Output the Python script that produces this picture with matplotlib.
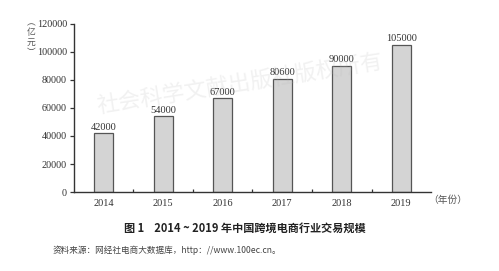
import numpy as np
import matplotlib.pyplot as plt

years = ['2014', '2015', '2016', '2017', '2018', '2019']
scale = [42000, 54000, 67000, 80600, 90000, 105000]   # 亿元
y_ticks = [0, 20000, 40000, 60000, 80000, 100000, 120000]
unit_chars = ['︵', '亿', '元', '︶']

serif = ['Liberation Serif', 'DejaVu Serif']
cjk = ['Noto Sans CJK SC', 'DejaVu Sans']
txt = '#333333'

fig = plt.figure(figsize=(4.99, 2.71), dpi=100)
ax = fig.add_axes([0.148, 0.2915, 0.716, 0.62])

x = np.arange(len(years))
bars = ax.bar(x, scale, width=0.32, color='#d4d4d4', edgecolor='#555555', linewidth=0.9, zorder=2)
for xi, v in zip(x, scale):
    ax.text(xi, v + 1200, str(v), ha='center', va='bottom', fontsize=7.5,
            family=serif, color=txt)

ax.set_xlim(-0.5, 5.5)
ax.set_ylim(0, 120000)
ax.set_yticks(y_ticks)
ax.set_yticklabels([str(t) for t in y_ticks], family=serif, fontsize=7.3, color=txt)
ax.set_xticks(x)
ax.set_xticklabels(years, family=serif, fontsize=7.5, color=txt)
ax.tick_params(axis='x', length=0, pad=5)
ax.set_xticks(np.arange(0.5, 5.5, 1), minor=True)
ax.tick_params(axis='x', which='minor', direction='in', length=2.5, width=0.9, color='#333333')
ax.tick_params(axis='y', length=3, width=0.9, color='#333333', pad=2)

for s in ['top', 'right']:
    ax.spines[s].set_visible(False)
for s in ['left', 'bottom']:
    ax.spines[s].set_color('#333333')
    ax.spines[s].set_linewidth(1.0)

# axis units, written top to bottom
for i, ch in enumerate(unit_chars):
    fig.text(0.062, 0.915 - i * 0.036, ch, ha='center', va='center', fontsize=6.3,
             family=cjk, color='#555555')
fig.text(0.858, 0.262, '（年份）', ha='left', va='center', fontsize=7,
         family=cjk, color='#555555')

# watermark
fig.text(0.19, 0.56, '社会科学文献出版社版权所有', rotation=9, fontsize=16,
         family=cjk, color='#bbbbbb', alpha=0.2, ha='left', va='bottom', zorder=10)

# caption and source
fig.text(0.49, 0.158, '图 1    2014 ~ 2019 年中国跨境电商行业交易规模', ha='center', va='center',
         fontsize=8, family=cjk, fontweight='bold', color='#222222')
fig.text(0.106, 0.078, '资料来源：网经社电商大数据库，http：//www.100ec.cn。', ha='left', va='center',
         fontsize=6.2, family=cjk, color='#444444')

fig.savefig('out.png', dpi=100)
